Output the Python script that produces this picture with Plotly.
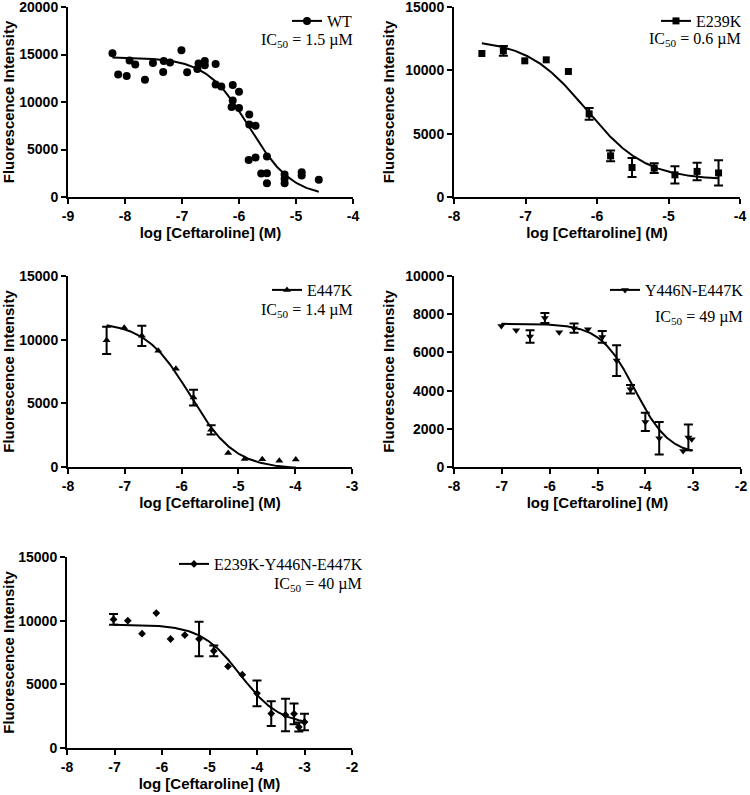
import numpy as np
import plotly.graph_objects as go

# ---------------- data ----------------
wt_x = [-8.22, -8.12, -7.97, -7.92, -7.82, -7.65, -7.51, -7.33, -7.32, -7.21,
        -7.01, -6.91, -6.73, -6.71, -6.60, -6.60, -6.41, -6.41, -6.31, -6.11,
        -6.00, -6.11, -6.13, -6.00, -5.82, -5.82, -5.71, -5.83, -5.71, -5.51,
        -5.61, -5.51, -5.51, -5.20, -5.20, -5.20, -4.90, -4.90, -4.60]
wt_y = [15120, 12890, 12750, 14360, 13940, 12330, 14110, 13170, 14320, 14150,
        15440, 13140, 13480, 14040, 14320, 13870, 14010, 11850, 11640, 11780,
        11080, 10170, 9480, 9370, 8680, 7630, 7490, 3900, 4150, 4250,
        2470, 2510, 1460, 2370, 1920, 1460, 2610, 2260, 1810]

e239k_x = [-7.61, -7.31, -7.01, -6.71, -6.40, -6.11, -5.81, -5.51, -5.20, -4.91, -4.60, -4.30]
e239k_y = [11330, 11540, 10750, 10830, 9910, 6560, 3250, 2330, 2280, 1750, 2020, 1900]
e239k_err = [None, 390, None, None, None, 460, 420, 750, 390, 680, 690, 1000]

e447k_x = [-7.32, -7.01, -6.70, -6.41, -6.10, -5.79, -5.48, -5.18, -4.89, -4.58, -4.28, -3.99]
e447k_y = [9950, 10940, 10300, 9130, 7710, 5450, 2920, 1100, 630, 600, 500, 580]
e447k_err = [1070, None, 800, None, None, 620, 360, None, None, None, None, None]

y446n_x = [-7.01, -6.70, -6.41, -6.10, -5.80, -5.49, -5.20, -4.90, -4.60, -4.31, -4.00, -3.71, -3.21, -3.10, -3.03]
y446n_y = [7380, 7160, 6830, 7800, 7050, 7270, 7210, 6810, 5570, 4070, 2360, 1510, 840, 1550, 1450]
y446n_err = [None, None, 330, 260, None, 240, None, 310, 800, 220, 480, 850, None, 670, None]

triple_x = [-7.02, -6.72, -6.42, -6.12, -5.82, -5.52, -5.22, -4.91, -4.61, -4.31, -4.00, -3.70, -3.40, -3.22, -3.12, -3.00]
triple_y = [10100, 10000, 8980, 10600, 8560, 8870, 8560, 7620, 6410, 5760, 4290, 2700, 2590, 2680, 1650, 2040]
triple_err = [420, None, None, None, None, None, 1350, 420, None, None, 1020, 980, 1280, 820, 350, 650]

# four-parameter logistic fit parameters: top, bottom, logIC50, hill slope
wt_fit = [14700, 0, -5.82, 1.15]
e239k_fit = [12450, 1350, -6.15, 1.05]
e447k_fit = [11400, -150, -5.85, 1.1]
y446n_fit = [7500, 600, -4.22, 1.2]
triple_fit = [9700, 1800, -4.35, 1.05]

names = ["WT", "E239K", "E447K", "Y446N-E447K", "E239K-Y446N-E447K"]
ic50_labels = ["1.5 µM", "0.6 µM", "1.4 µM", "49 µM", "40 µM"]

x_ranges = [[-9, -4], [-8, -4], [-8, -3], [-8, -2], [-8, -2]]
y_ranges = [[0, 20000], [0, 15000], [0, 15000], [0, 10000], [0, 15000]]
y_dticks = [5000, 5000, 5000, 2000, 5000]

x_title = "log [Ceftaroline] (M)"
y_title = "Fluorescence Intensity"

# ---------------- layout helpers ----------------
W, H = 750, 795
def px(x):
    return x / W
def py(y):
    return 1 - y / H

# panel boxes in pixels: left, right, top, bottom
boxes = [(68, 353, 7, 197), (454, 740, 7, 197), (68, 352, 276, 467),
         (454, 741, 276, 467), (67, 352, 557, 748)]
# legend right edge / center y ; IC50 right edge / center y
leg_pos = [(358, 21), (747, 21), (358, 290), (749, 290), (368, 564)]
ic_pos = [(355, 41), (743, 40), (355, 310), (745, 317), (364, 584)]

symbols = ["circle", "square", "triangle-up", "triangle-down", "diamond"]
msizes = [8, 7, 7, 7, 6]

series = [
    (wt_x, wt_y, [None] * len(wt_x), wt_fit),
    (e239k_x, e239k_y, e239k_err, e239k_fit),
    (e447k_x, e447k_y, e447k_err, e447k_fit),
    (y446n_x, y446n_y, y446n_err, y446n_fit),
    (triple_x, triple_y, triple_err, triple_fit),
]

fig = go.Figure()
layout = dict(
    width=W, height=H, autosize=False,
    margin=dict(l=0, r=0, t=0, b=0),
    paper_bgcolor="white", plot_bgcolor="white",
    showlegend=True, annotations=[],
)

tickfont = dict(family="Liberation Sans, Arial", size=14, color="black", weight="bold")
axfont = dict(family="Liberation Sans, Arial", size=15, color="black", weight="bold")
serif = dict(family="Liberation Serif, Times New Roman, serif", size=16, color="black")

for i, (xs, ys, errs, fit) in enumerate(series):
    k = "" if i == 0 else str(i + 1)
    xa, ya = "x" + k, "y" + k
    l, r, t, b = boxes[i]
    xticks = list(range(x_ranges[i][0], x_ranges[i][1] + 1))
    xticktext = [str(v) for v in xticks]
    layout["xaxis" + k] = dict(
        domain=[px(l), px(r)], anchor=ya, range=x_ranges[i],
        tickvals=xticks, ticktext=xticktext, ticklabeloverflow="allow",
        showline=True, linecolor="black", linewidth=2, mirror=False,
        ticks="outside", ticklen=5, tickwidth=2, tickcolor="black",
        showgrid=False, zeroline=False, tickfont=tickfont,
        title=dict(text=x_title, font=axfont, standoff=5), automargin=False,
    )
    layout["yaxis" + k] = dict(
        domain=[py(b), py(t)], anchor=xa, range=y_ranges[i],
        dtick=y_dticks[i], tickformat="d", ticklabeloverflow="allow",
        showline=True, linecolor="black", linewidth=2, mirror=False,
        ticks="outside", ticklen=5, tickwidth=2, tickcolor="black",
        showgrid=False, zeroline=False, tickfont=tickfont,
        title=dict(text=y_title, font=axfont, standoff=7), automargin=False,
    )

    # fitted curve
    top, bot, c, h = fit
    xc = np.linspace(min(xs), max(xs), 300)
    yc = bot + (top - bot) / (1 + 10 ** ((xc - c) * h))
    fig.add_trace(go.Scatter(x=xc, y=yc, mode="lines", line=dict(color="black", width=2),
                             xaxis=xa, yaxis=ya, showlegend=False, hoverinfo="skip"))

    # points without error bars
    xs_n = [x for x, e in zip(xs, errs) if e is None]
    ys_n = [y for y, e in zip(ys, errs) if e is None]
    marker = dict(symbol=symbols[i], size=msizes[i], color="black", line=dict(width=0))
    if xs_n:
        fig.add_trace(go.Scatter(x=xs_n, y=ys_n, mode="markers", marker=marker,
                                 xaxis=xa, yaxis=ya, showlegend=False, cliponaxis=False))
    # points with error bars
    xs_e = [x for x, e in zip(xs, errs) if e is not None]
    ys_e = [y for y, e in zip(ys, errs) if e is not None]
    es_e = [e for e in errs if e is not None]
    if xs_e:
        fig.add_trace(go.Scatter(x=xs_e, y=ys_e, mode="markers", marker=marker,
                                 error_y=dict(type="data", array=es_e, visible=True,
                                              color="black", thickness=2, width=4.5),
                                 xaxis=xa, yaxis=ya, showlegend=False, cliponaxis=False))

    # legend entry
    lk = "legend" + k
    fig.add_trace(go.Scatter(x=[None], y=[None], mode="lines+markers", name=names[i],
                             line=dict(color="black", width=2), marker=marker,
                             xaxis=xa, yaxis=ya, showlegend=True, legend=lk))
    lx, ly = leg_pos[i]
    layout[lk] = dict(x=px(lx), y=py(ly), xanchor="right", yanchor="middle",
                      bgcolor="rgba(0,0,0,0)", borderwidth=0, font=serif,
                      itemwidth=30, itemclick=False, itemdoubleclick=False)
    ix, iy = ic_pos[i]
    layout["annotations"].append(dict(
        xref="paper", yref="paper", x=px(ix), y=py(iy), xanchor="right", yanchor="middle",
        text="IC<sub>50</sub> = " + ic50_labels[i], showarrow=False, font=serif))

fig.update_layout(**layout)
fig.write_html("out.html", config={"displayModeBar": False},
               post_script="document.body.style.margin='0px';")
